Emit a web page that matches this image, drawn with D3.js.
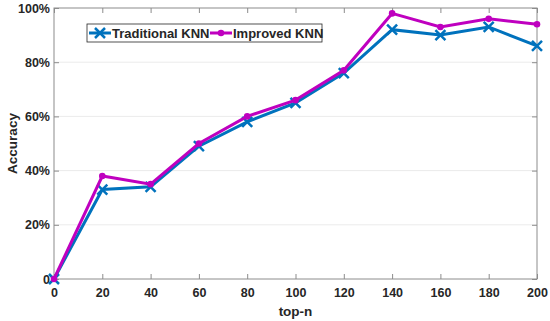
<!DOCTYPE html>
<html>
<head>
<meta charset="utf-8">
<script src="https://cdn.jsdelivr.net/npm/d3@7"></script>
<style>
  body { margin: 0; background: #fff; }
  svg { font-family: "Liberation Sans", Arial, sans-serif; font-weight: bold; }
  .axis text { fill: #262626; font-size: 12.5px; }
  .axis path, .axis line { stroke: #8c8c8c; }
  .grid line { stroke: #ebebeb; }
  .lab { fill: #262626; font-size: 13.5px; }
  .leg { fill: #262626; font-size: 13px; }
</style>
</head>
<body>
<div id="plot"></div>
<script>
const topN = [0, 20, 40, 60, 80, 100, 120, 140, 160, 180, 200],
    traditional = [0, 33, 34, 49, 58, 65, 76, 92, 90, 93, 86],
    improved = [0, 38, 35, 50, 60, 66, 77, 98, 93, 96, 94],
    yTicks = [0, 20, 40, 60, 80, 100],
    seriesNames = ["Traditional KNN", "Improved KNN"],
    seriesColors = ["#0072bd", "#bf00bf"]

const w = 550, h = 321,
    margin = {top: 8, right: 13, bottom: 42, left: 54},
    x = d3.scaleLinear().domain([0, 200]).range([margin.left, w - margin.right]),
    y = d3.scaleLinear().domain([0, 100]).range([h - margin.bottom, margin.top])

const svg = d3.select("#plot").append("svg")
  .attr("width", w)
  .attr("height", h)

// horizontal grid
svg.append("g")
  .attr("class", "grid")
  .selectAll("line")
  .data(yTicks.slice(1, -1))
  .join("line")
  .attr("x1", x(0)).attr("x2", x(200))
  .attr("y1", d => y(d)).attr("y2", d => y(d))

// box
svg.append("rect")
  .attr("x", x(0)).attr("y", y(100))
  .attr("width", x(200) - x(0)).attr("height", y(0) - y(100))
  .attr("fill", "none").attr("stroke", "#8c8c8c")

svg.append("g")
  .attr("class", "axis")
  .attr("transform", `translate(0, ${y(0)})`)
  .call(d3.axisBottom(x).tickValues(topN).tickSize(-5).tickPadding(7))
  .call(g => g.selectAll("text").attr("dy", "0.85em"))

svg.append("g")
  .attr("class", "axis")
  .attr("transform", `translate(0, ${y(100)})`)
  .call(d3.axisTop(x).tickValues(topN).tickSize(-5).tickFormat(""))

svg.append("g")
  .attr("class", "axis")
  .attr("transform", `translate(${x(0)}, 0)`)
  .call(d3.axisLeft(y).tickValues(yTicks).tickSize(-5).tickPadding(4)
    .tickFormat(d => d === 0 ? "0" : d + "%"))

svg.append("g")
  .attr("class", "axis")
  .attr("transform", `translate(${x(200)}, 0)`)
  .call(d3.axisRight(y).tickValues(yTicks).tickSize(-5).tickFormat(""))

svg.selectAll(".axis .domain").remove()

svg.append("text")
  .attr("class", "lab")
  .attr("x", x(100))
  .attr("y", 316)
  .style("text-anchor", "middle")
  .text("top-n")

svg.append("text")
  .attr("class", "lab")
  .attr("transform", "rotate(-90)")
  .attr("x", -(y(50)))
  .attr("y", 17)
  .style("text-anchor", "middle")
  .text("Accuracy")

const line = d3.line()
  .x(d => x(d[0]))
  .y(d => y(d[1]))

const xMark = (g, cx, cy, s) => {
  g.append("path")
    .attr("d", `M${cx - s},${cy - s}L${cx + s},${cy + s}M${cx - s},${cy + s}L${cx + s},${cy - s}`)
    .attr("stroke", seriesColors[0])
    .attr("stroke-width", 2.5)
}

// traditional series
const tData = topN.map((n, i) => [n, traditional[i]])
svg.append("path")
  .datum(tData)
  .attr("fill", "none")
  .attr("stroke", seriesColors[0])
  .attr("stroke-width", 3)
  .attr("d", line)
const tMarks = svg.append("g")
tData.forEach(d => xMark(tMarks, x(d[0]), y(d[1]), 5))

// improved series
const iData = topN.map((n, i) => [n, improved[i]])
svg.append("path")
  .datum(iData)
  .attr("fill", "none")
  .attr("stroke", seriesColors[1])
  .attr("stroke-width", 3)
  .attr("d", line)
svg.append("g")
  .selectAll("circle")
  .data(iData)
  .join("circle")
  .attr("cx", d => x(d[0]))
  .attr("cy", d => y(d[1]))
  .attr("r", 3.3)
  .attr("fill", seriesColors[1])

// legend
const lg = svg.append("g")
lg.append("rect")
  .attr("x", 87).attr("y", 24)
  .attr("width", 235).attr("height", 18)
  .attr("fill", "#fff").attr("stroke", "#262626").attr("stroke-width", 0.8)
lg.append("line")
  .attr("x1", 89).attr("x2", 111).attr("y1", 33).attr("y2", 33)
  .attr("stroke", seriesColors[0]).attr("stroke-width", 3)
xMark(lg, 100, 33, 5)
lg.append("text")
  .attr("class", "leg").attr("x", 112).attr("y", 37.5)
  .text(seriesNames[0])
lg.append("line")
  .attr("x1", 210).attr("x2", 232).attr("y1", 33).attr("y2", 33)
  .attr("stroke", seriesColors[1]).attr("stroke-width", 3)
lg.append("circle")
  .attr("cx", 221).attr("cy", 33).attr("r", 3.3)
  .attr("fill", seriesColors[1])
lg.append("text")
  .attr("class", "leg").attr("x", 233).attr("y", 37.5)
  .text(seriesNames[1])
</script>
</body>
</html>
